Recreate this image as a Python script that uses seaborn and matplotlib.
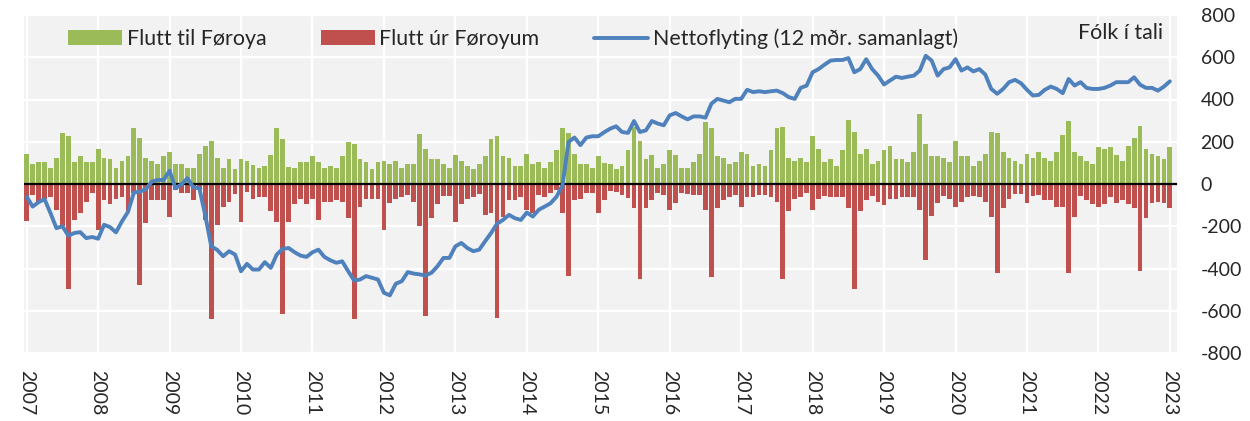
import numpy as np
import pandas as pd
import matplotlib
matplotlib.use("Agg")
import matplotlib.pyplot as plt
import seaborn as sns
from matplotlib.patches import Patch
from matplotlib.lines import Line2D

# ---------------- data (monthly, Jan 2007 - Jan 2023) ----------------
years = [str(y) for y in range(2007, 2024)]

flutt_til = [
    144, 94, 102, 102, 74, 122, 242, 226, 102, 132, 102, 102,   # 2007
    168, 122, 116, 74, 108, 132, 264, 220, 122, 108, 94, 132,   # 2008
    152, 94, 94, 74, 74, 144, 182, 204, 122, 78, 116, 72,       # 2009
    116, 108, 89, 78, 86, 138, 264, 212, 80, 78, 102, 102,      # 2010
    132, 102, 74, 86, 78, 132, 198, 188, 116, 102, 72, 102,     # 2011
    108, 94, 108, 78, 94, 97, 235, 168, 116, 116, 94, 78,       # 2012
    138, 108, 86, 72, 94, 132, 212, 226, 132, 122, 86, 86,      # 2013
    144, 94, 102, 78, 102, 160, 264, 242, 144, 94, 94, 78,      # 2014
    132, 98, 94, 72, 86, 160, 270, 204, 116, 138, 78, 94,       # 2015
    160, 138, 78, 78, 102, 144, 292, 264, 132, 122, 94, 102,    # 2016
    152, 144, 86, 94, 86, 160, 264, 270, 122, 108, 122, 102,    # 2017
    226, 168, 102, 116, 86, 160, 301, 248, 144, 168, 94, 108,   # 2018
    160, 182, 116, 116, 102, 152, 330, 188, 132, 132, 122, 102, # 2019
    204, 132, 132, 86, 108, 144, 248, 240, 152, 121, 110, 94,   # 2020
    144, 122, 152, 122, 108, 152, 234, 298, 152, 132, 108, 94,  # 2021
    174, 168, 174, 138, 108, 182, 220, 276, 168, 144, 132, 116, # 2022
    174,                                                        # 2023
]

flutt_ur = [
    -177, -52, -91, -72, -63, -122, -200, -499, -170, -137, -83, -44,
    -216, -75, -94, -72, -60, -130, -44, -480, -185, -75, -75, -75,
    -154, -28, -44, -41, -75, -28, -170, -640, -193, -107, -83, -47,
    -182, -36, -72, -60, -60, -130, -182, -617, -182, -94, -72, -94,
    -72, -170, -83, -83, -75, -83, -162, -640, -107, -72, -72, -72,
    -216, -91, -72, -60, -52, -83, -200, -624, -162, -94, -56, -56,
    -182, -94, -72, -60, -47, -146, -138, -632, -154, -75, -75, -60,
    -122, -138, -52, -60, -44, -28, -138, -436, -75, -72, -44, -44,
    -138, -75, -31, -36, -52, -67, -115, -449, -115, -75, -44, -52,
    -122, -91, -44, -47, -52, -52, -122, -440, -115, -75, -60, -52,
    -110, -63, -60, -52, -52, -60, -83, -449, -126, -72, -60, -41,
    -122, -72, -56, -63, -60, -60, -115, -499, -130, -78, -56, -83,
    -99, -72, -72, -60, -63, -63, -122, -361, -151, -88, -56, -72,
    -107, -83, -60, -56, -60, -83, -154, -420, -115, -72, -47, -47,
    -91, -56, -52, -78, -78, -107, -110, -420, -157, -56, -78, -94,
    -107, -94, -63, -88, -78, -94, -115, -413, -162, -88, -83, -88,
    -115,
]

netto_12m = [
    -60, -107, -86, -72, -138, -209, -200, -245, -232, -228, -256, -251,
    -259, -193, -204, -229, -177, -133, -41, -36, -25, 11, 19, 19,
    63, -20, -2, 27, -16, -20, -150, -295, -312, -342, -318, -334,
    -413, -378, -405, -405, -370, -397, -334, -307, -303, -323, -339, -345,
    -323, -311, -345, -361, -373, -366, -413, -457, -452, -436, -444, -452,
    -515, -527, -472, -460, -417, -424, -428, -433, -420, -389, -350, -350,
    -295, -279, -303, -318, -311, -271, -232, -188, -170, -146, -162, -170,
    -135, -154, -122, -107, -91, -60, -5, 199, 220, 184, 220, 226,
    226, 245, 262, 273, 246, 242, 298, 246, 254, 298, 286, 278,
    325, 336, 320, 306, 320, 320, 314, 380, 403, 395, 387, 403,
    403, 446, 435, 439, 435, 439, 442, 430, 411, 403, 455, 466,
    529, 544, 565, 584, 587, 587, 596, 529, 544, 591, 544, 513,
    471, 490, 508, 502, 508, 513, 537, 607, 584, 513, 544, 552,
    591, 537, 552, 533, 544, 518, 450, 427, 450, 482, 493, 477,
    446, 419, 422, 446, 461, 450, 430, 497, 466, 482, 455, 450,
    450, 455, 466, 482, 482, 482, 505, 470, 455, 455, 442, 461,
    486,
]

labels = ["Flutt til Føroya", "Flutt úr Føroyum", "Nettoflyting (12 mðr. samanlagt)"]
unit_label = "Fólk í tali"

# ---------------- styling ----------------
GREEN = "#9bbb59"
RED = "#c0504d"
BLUE = "#4f81bd"
BG = "#f2f2f2"

sns.set_style("white")
plt.rcParams["font.family"] = ["Lato", "DejaVu Sans"]
FS = 14
LFS = 15.4

n = len(flutt_til)
df = pd.DataFrame({
    "m": np.arange(n),
    "til": flutt_til,
    "ur": flutt_ur,
    "netto": netto_12m,
})

fig = plt.figure(figsize=(12.5, 4.21), dpi=100)
ax = fig.add_axes([24.0 / 1250, 1 - 353 / 421, (1177 - 24.0) / 1250, 338 / 421])
ax.set_facecolor(BG)

sns.barplot(data=df, x="m", y="til", color=GREEN, native_scale=True,
            width=0.8, saturation=1, linewidth=0, ax=ax, zorder=2)
sns.barplot(data=df, x="m", y="ur", color=RED, native_scale=True,
            width=0.8, saturation=1, linewidth=0, ax=ax, zorder=2)
ax.axhline(0, color="black", lw=1.6, zorder=3)
sns.lineplot(data=df, x="m", y="netto", color=BLUE, lw=2.8, ax=ax, zorder=4)

ax.set_xlim(-0.45, 193.2)
ax.set_ylim(-800, 800)

ax.set_xticks(np.arange(0, n, 12))
ax.set_xticklabels(years, rotation=-90, fontsize=FS, va="top", ha="center")
ax.set_yticks(np.arange(-800, 801, 200))
ax.set_yticklabels([str(v) for v in range(-800, 801, 200)], fontsize=FS)
ax.yaxis.tick_right()
ax.tick_params(axis="y", length=0, pad=17)
ax.tick_params(axis="x", length=0, pad=12)
ax.set_xlabel("")
ax.set_ylabel("")

ax.grid(True, color="white", lw=1.6)
ax.set_axisbelow(True)
for s in ax.spines.values():
    s.set_visible(False)

handles = [
    Patch(facecolor=GREEN, edgecolor="none"),
    Patch(facecolor=RED, edgecolor="none"),
    Line2D([0], [0], color=BLUE, lw=2.8),
]
ax.legend(handles, labels, ncol=3, loc="center left",
          bbox_to_anchor=((68 - 24.0) / 1153, (353 - 39) / 338),
          frameon=False, fontsize=LFS, handlelength=2.52, handleheight=0.7,
          handletextpad=0.22, columnspacing=2.55, borderaxespad=0, borderpad=0)

ax.text((1163 - 24.0) / 1153, (353 - 33) / 338, unit_label, transform=ax.transAxes,
        ha="right", va="center", fontsize=LFS)

fig.savefig("out.png", dpi=100, facecolor="white")
